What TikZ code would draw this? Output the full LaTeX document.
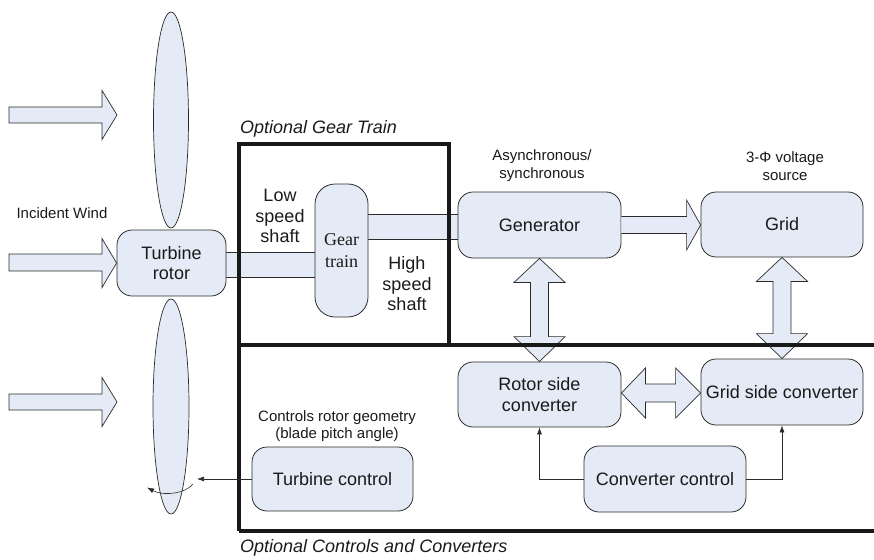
\documentclass[tikz,border=0pt]{standalone}
\usepackage{fontspec}
\setmainfont{Liberation Sans}
\newfontfamily\gearserif{Liberation Serif}
\usetikzlibrary{calc,arrows.meta,backgrounds}
\definecolor{boxfill}{HTML}{E4EBF6}
\definecolor{edge}{HTML}{2B2B2B}
\definecolor{txt}{HTML}{1A1A1A}
\tikzset{
  blk/.style={draw=edge, line width=0.8pt, fill=boxfill, rounded corners=15pt, align=center,
    text=txt, font=\fontsize{18}{20.5}\selectfont, inner sep=0pt},
  lbl/.style={align=center, text=txt, font=\fontsize{15}{18}\selectfont, inner sep=0pt},
  bigarrow/.style={draw=edge, line width=0.7pt, fill=boxfill, line join=miter},
  shaft/.style={fill=boxfill},
  shaftline/.style={draw=edge, line width=0.7pt},
  frame/.style={line width=4pt, draw=black!90},
  thin/.style={draw=edge, line width=0.6pt, -{Latex[length=7pt,width=5pt]}},
  blade/.style={draw=edge, line width=0.7pt, fill=boxfill},
  ital/.style={text=txt, font=\fontsize{18}{21}\selectfont\itshape, inner sep=0pt, anchor=west}
}
\begin{document}
\begin{tikzpicture}[x=1pt,y=-1pt]
\useasboundingbox (0,0) rectangle (874,559);

% blades
\filldraw[blade] (171,120) ellipse [x radius=17.5, y radius=108];
\filldraw[blade] (171,406.5) ellipse [x radius=18, y radius=107.5];

% boxes
\path
  node[blk, minimum width=109pt, minimum height=66pt] (rotor) at (171.5,263) {Turbine\\rotor}
  node[blk, minimum width=53pt, minimum height=133pt, rounded corners=20pt, font=\gearserif\fontsize{18}{22}\selectfont] (gear) at (341.5,250.5) {Gear\\train}
  node[blk, minimum width=163pt, minimum height=66pt] (gen) at (539.5,225) {Generator}
  node[blk, minimum width=162pt, minimum height=65pt] (grid) at (782,224.5) {Grid}
  node[blk, minimum width=163pt, minimum height=65pt] (rsc) at (539.5,394.5) {Rotor side\\converter}
  node[blk, minimum width=162pt, minimum height=66pt] (gsc) at (782,392) {Grid side converter}
  node[blk, minimum width=162pt, minimum height=66pt] (cc) at (665,479) {Converter control}
  node[blk, minimum width=161pt, minimum height=64pt] (tc) at (332.5,479) {Turbine control};

% shafts (behind boxes)
\begin{scope}[on background layer]
\fill[shaft] ($(rotor.east)+(-6,-11)$) rectangle ($(gear.west |- rotor.east)+(6,14)$);
\draw[shaftline] ($(rotor.east)+(-6,-11)$) -- ($(gear.west |- rotor.east)+(6,-11)$)
                 ($(rotor.east)+(-6,14)$) -- ($(gear.west |- rotor.east)+(6,14)$);
\fill[shaft] ($(gear.east |- gen.west)+(-6,-11)$) rectangle ($(gen.west)+(6,14)$);
\draw[shaftline] ($(gear.east |- gen.west)+(-6,-11)$) -- ($(gen.west)+(6,-11)$)
                 ($(gear.east |- gen.west)+(-6,14)$) -- ($(gen.west)+(6,14)$);
\end{scope}

% wind arrows
\filldraw[bigarrow] (9,107) -- (102,107) -- (102,90.5) -- (117,115) -- (102,139.5) -- (102,123) -- (9,123) -- cycle;
\filldraw[bigarrow] (9,254) -- (102,254) -- (102,238.5) -- (rotor.west) -- (102,287.5) -- (102,271) -- (9,271) -- cycle;
\filldraw[bigarrow] (9,394) -- (102,394) -- (102,377.5) -- (117,402) -- (102,426.5) -- (102,410) -- (9,410) -- cycle;

% generator -> grid
\filldraw[bigarrow] ($(gen.east)+(0,-8.5)$) -- ($(gen.east -| grid.west)+(-14,-8.5)$)
  -- ($(gen.east -| grid.west)+(-14,-25)$) -- (gen.east -| grid.west)
  -- ($(gen.east -| grid.west)+(-14,25)$) -- ($(gen.east -| grid.west)+(-14,8.5)$)
  -- ($(gen.east)+(0,8.5)$);

% generator <-> rotor side converter
\filldraw[bigarrow] (gen.south) -- ($(gen.south)+(25.5,24)$) -- ($(gen.south)+(9,24)$)
  -- ($(rsc.north)+(9,-25)$) -- ($(rsc.north)+(25.5,-25)$) -- (rsc.north)
  -- ($(rsc.north)+(-25.5,-25)$) -- ($(rsc.north)+(-9,-25)$)
  -- ($(gen.south)+(-9,24)$) -- ($(gen.south)+(-25.5,24)$) -- cycle;

% grid <-> grid side converter
\filldraw[bigarrow] (grid.south) -- ($(grid.south)+(25.5,24)$) -- ($(grid.south)+(9,24)$)
  -- ($(gsc.north)+(9,-25)$) -- ($(gsc.north)+(25.5,-25)$) -- (gsc.north)
  -- ($(gsc.north)+(-25.5,-25)$) -- ($(gsc.north)+(-9,-25)$)
  -- ($(grid.south)+(-9,24)$) -- ($(grid.south)+(-25.5,24)$) -- cycle;

% rotor side <-> grid side converter
\coordinate (hr) at ($(rsc.east -| gsc.west)$);
\filldraw[bigarrow] ($(rsc.east)+(0,-1.5)$) -- ($(rsc.east)+(24,-26.5)$) -- ($(rsc.east)+(24,-10.5)$)
  -- ($(hr)+(-25,-10.5)$) -- ($(hr)+(-25,-26.5)$) -- ($(hr)+(0,-1.5)$)
  -- ($(hr)+(-25,23.5)$) -- ($(hr)+(-25,7.5)$)
  -- ($(rsc.east)+(24,7.5)$) -- ($(rsc.east)+(24,23.5)$) -- cycle;

% thick frames
\draw[frame] (239,531) -- (239,144) -- (449,144) -- (449,345);
\draw[frame] (239,345) -- (876,345);
\draw[frame] (239,531) -- (876,531);

% thin connectors
\coordinate (pitch) at (197,479);
\draw[thin] (tc.west) -- (pitch);
\draw[thin] (cc.west) -| (rsc.south);
\draw[thin] (cc.east) -| (gsc.south);
\draw[thin] (193,484) .. controls (185,494) and (163,496) .. (147,487.5);

% labels
\node[lbl] (wind) at (62,213) {Incident Wind};
\node[lbl] (async) at (542,166) {Asynchronous/\\synchronous};
\node[lbl] (volt) at (785,166) {3-Φ voltage\\source};
\node[blk, draw=none, fill=none] (lss) at (280,216) {Low\\speed\\shaft};
\node[blk, draw=none, fill=none] (hss) at (407,284) {High\\speed\\shaft};
\node[lbl, font=\fontsize{15}{17}\selectfont] (geom) at (337,426.5) {Controls rotor geometry\\(blade pitch angle)};
\node[ital] (ogt) at (240,129) {Optional Gear Train};
\node[ital] (occ) at (240,548) {Optional Controls and Converters};
\end{tikzpicture}
\end{document}
